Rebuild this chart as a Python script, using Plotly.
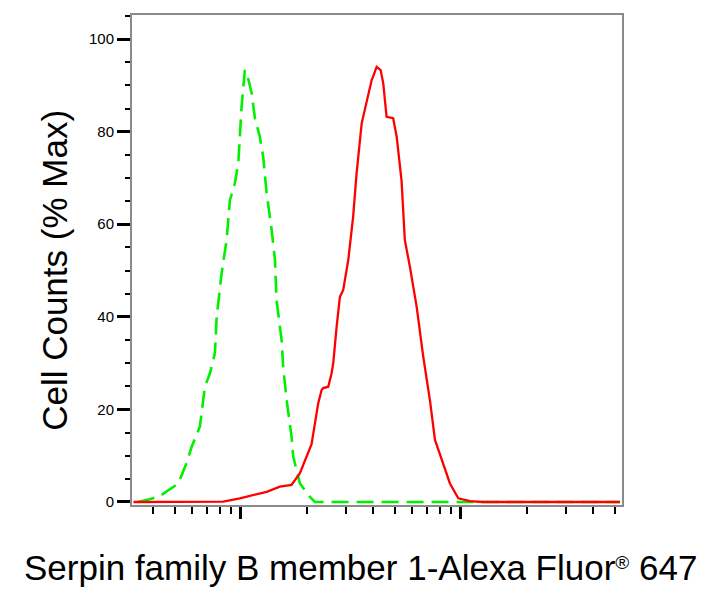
import plotly.graph_objects as go

# Isotype control (green dashed)
iso_x = [340, 385, 429, 459, 519, 566, 597, 651, 686, 723, 762, 776, 817, 861, 891, 939, 973,
         1007, 1042, 1079, 1119, 1158, 1219, 1262, 1309, 1380, 1428, 1452, 1531, 1556, 1614,
         1699, 1729, 1854, 2059, 2168, 3000, 6000, 12000, 25000, 52800]
iso_y = [0, 0.6, 1.3, 2.2, 4.0, 8.4, 11.9, 16.3, 24.9, 27.8, 32.2, 40.0, 49.4, 56.6, 65.2, 68.9, 73.2,
         85.4, 93.3, 91.5, 88.3, 82.9, 78.9, 74.6, 66.7, 58.7, 52.3, 43.6, 35.0, 29.2, 22.0,
         14.1, 9.8, 4.0, 1.1, 0, 0, 0, 0, 0, 0]

# Serpin B1 stained sample (red solid)
smp_x = [325, 500, 700, 831, 989, 1137, 1309, 1504, 1699, 1854, 2095, 2245, 2327, 2366, 2494,
         2583, 2628, 2723, 2818, 2917, 3076, 3236, 3355, 3539, 3793, 3927, 4140, 4315, 4436,
         4592, 4920, 5105, 5370, 5559, 5861, 6290, 6740, 7228, 7621, 8318, 8913, 9727, 10990,
         12590, 20000, 35000, 52800]
smp_y = [0, 0, 0, 0.07, 0.8, 1.5, 2.2, 3.3, 3.7, 6.2, 12.5, 21.3, 24.2, 24.6, 24.9,
         27.8, 30.0, 37.9, 44.3, 45.8, 52.3, 61.6, 71.0, 81.8, 88.3, 91.1, 94.0, 93.3, 90.4,
         83.2, 82.9, 78.9, 69.5, 56.6, 50.8, 42.2, 31.4, 22.0, 13.4, 8.4, 4.0, 0.8, 0.2,
         0, 0, 0, 0]

y_major = [0, 20, 40, 60, 80, 100]
y_labels = ["0", "20", "40", "60", "80", "100"]
x_major = [1000, 10000]
x_minor = [400, 500, 600, 700, 800, 900, 2000, 3000, 4000, 5000, 6000, 7000, 8000, 9000,
           20000, 30000, 40000, 50000]

x_title = "Serpin family B member 1-Alexa Fluor<span style='font-size:27px'><sup>®</sup></span> 647"
y_title = "Cell Counts (% Max)"

FONT = "Arial, Liberation Sans, sans-serif"

fig = go.Figure()
fig.add_trace(go.Scatter(x=iso_x, y=iso_y, mode="lines",
                         line=dict(color="#00f000", width=2.6, dash="17px,8px"),
                         showlegend=False, hoverinfo="skip"))
fig.add_trace(go.Scatter(x=smp_x, y=smp_y, mode="lines",
                         line=dict(color="#ff0000", width=2.3),
                         showlegend=False, hoverinfo="skip"))

fig.update_layout(
    width=720, height=594,
    margin=dict(l=124, r=106, t=7, b=97, autoexpand=False),
    paper_bgcolor="white", plot_bgcolor="white",
    font=dict(family=FONT, color="black"),
    xaxis=dict(type="log", range=[2.505, 4.732], showgrid=False, zeroline=False,
               showline=True, linecolor="#8a8a8a", linewidth=2, mirror=True,
               tickmode="array", tickvals=x_major, showticklabels=False,
               ticks="outside", ticklen=12, tickwidth=3, tickcolor="black",
               minor=dict(tickmode="array", tickvals=x_minor, ticks="outside",
                          ticklen=7, tickwidth=1.5, tickcolor="black", showgrid=False)),
    yaxis=dict(range=[-0.65, 105.2], showgrid=False, zeroline=False,
               showline=True, linecolor="#8a8a8a", linewidth=2, mirror=True,
               tickmode="array", tickvals=y_major, ticktext=y_labels,
               ticks="outside", ticklen=13, tickwidth=3, tickcolor="black",
               tickfont=dict(size=15, family=FONT, color="black"),
               minor=dict(dtick=5, tick0=0, ticks="outside", ticklen=5, tickwidth=1.5,
                          tickcolor="black", showgrid=False)),
    annotations=[
        dict(text=x_title, xref="paper", yref="paper", x=0.467, y=-0.128,
             xanchor="center", yanchor="middle", showarrow=False,
             font=dict(size=35, family=FONT, color="black")),
        dict(text=y_title, xref="paper", yref="paper", x=-0.157, y=0.478,
             xanchor="center", yanchor="middle", textangle=-90, showarrow=False,
             font=dict(size=35, family=FONT, color="black")),
    ],
)

fig.write_html("out.html")
